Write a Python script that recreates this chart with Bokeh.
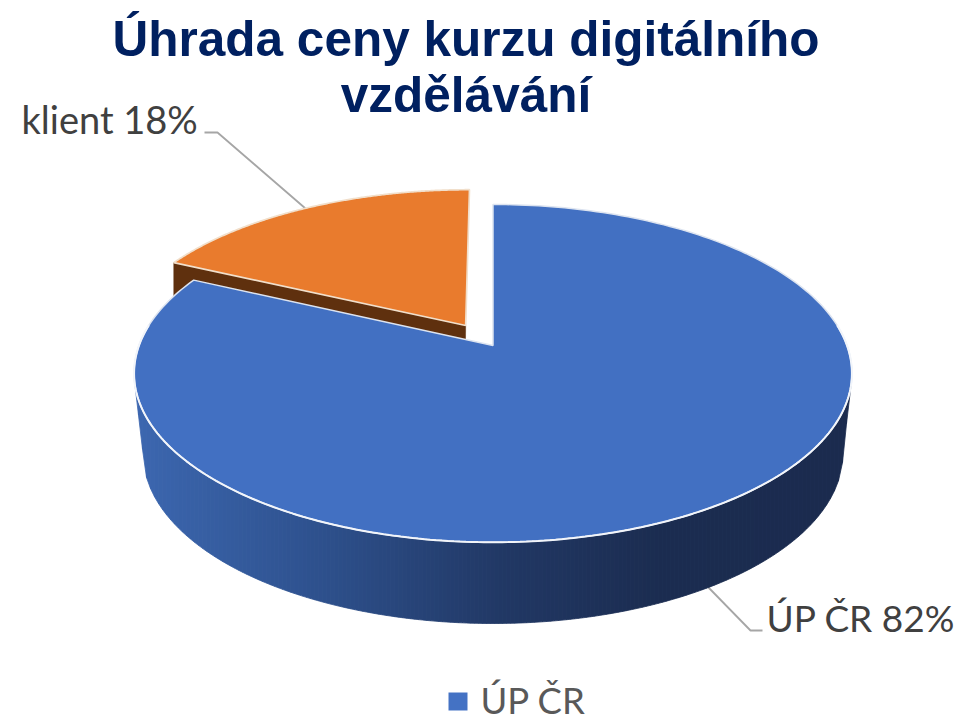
import numpy as np
from bokeh.plotting import figure
from bokeh.models import Range1d
from bokeh.core.properties import value
from bokeh.embed import file_html
from bokeh.resources import INLINE

# Data
categories = ["ÚP ČR", "klient"]
shares = [82, 18]
title_lines = ["Úhrada ceny kurzu digitálního", "vzdělávání"]
legend_items = ["ÚP ČR"]

# Colours
BLUE = "#4270C2"
ORANGE = "#E97B2D"
BROWN = "#5F300E"
TITLE = "#002060"
LABEL = "#404040"
LEGEND = "#595959"
LEADER = "#A6A6A6"
side_x = [134, 300, 500, 660, 851]
side_rgb = [(60, 103, 176), (47, 83, 145), (33, 56, 101), (27, 44, 80), (27, 43, 78)]

# Geometry of the tilted disc: a circle seen in perspective
CX, TIP_Y = 492.5, 345.0
A, B, K = 164.3, 354.0, 0.165
EXPLODE = 0.147
DEPTH = 80.0
BOT_CY, BOT_RX, BOT_RY = 453.0, 350.0, 170.0
TOP_CY = 373.0
RX = 358.0
BASE_SHIFT = 0.38  # em: distance the renderer sets an alphabetic text below its anchor


def project(u, v):
    w = 1 + K * v
    return CX + B * u / w, TIP_Y - A * v / w


def wedge(start, stop, du=0.0, dv=0.0, n=240):
    t = np.linspace(start, stop, n) * 2 * np.pi
    us = np.concatenate(([0.0], np.sin(t))) + du
    vs = np.concatenate(([0.0], np.cos(t))) + dv
    return project(us, vs)


def put_text(x, base, s, font, size, color, align="left", style="normal"):
    p.text([x], [base - BASE_SHIFT * size], text=[s], text_font=value(font), text_font_style=style,
           text_font_size=f"{size}px", text_color=color, text_align=align, text_baseline="alphabetic")


total = sum(shares)
f0 = shares[0] / total

p = figure(width=957, height=715, output_backend="svg", toolbar_location=None,
           x_range=Range1d(0, 957), y_range=Range1d(715, 0), min_border=0,
           background_fill_color="white", border_fill_color="white", outline_line_color=None)
p.axis.visible = False
p.grid.visible = False

# Leader lines
p.line([204, 217, 305], [132, 132, 208], line_color=LEADER, line_width=1.8)
p.line([708, 750, 762], [587, 630, 630], line_color=LEADER, line_width=1.8)

# Exploded slice
mid = (f0 + 1) / 2 * 2 * np.pi
du, dv = EXPLODE * np.sin(mid), EXPLODE * np.cos(mid)
ox, oy = wedge(f0, 1.0, du, dv)
face_x = [ox[0], ox[1], ox[1], ox[0] - 1]
face_y = [oy[0], oy[1], oy[1] + DEPTH, oy[0] + DEPTH]
p.patch(face_x, face_y, fill_color=BROWN, line_color=BROWN, line_width=0.5)
p.patch(ox, oy, fill_color=ORANGE, line_color="#F1DFCB", line_width=1.7)

# Side wall of the large slice, shaded strip by strip
edges = np.arange(134, 852, 4.0)
edges[-1] = 851


def lower(x):
    inside = np.clip(np.abs(x - CX) / BOT_RX, 0, 1)
    y = BOT_CY + BOT_RY * np.sqrt(1 - inside ** 2)
    over = np.abs(x - CX) - BOT_RX
    return np.where(over > 0, BOT_CY - (over / (RX - BOT_RX)) * 68, y)


sx, sy, sc = [], [], []
for a, b in zip(edges[:-1], edges[1:]):
    m = (a + b) / 2
    rgb = [np.interp(m, side_x, [c[i] for c in side_rgb]) for i in range(3)]
    sx.append([a, b, b, a])
    sy.append([TOP_CY, TOP_CY, float(lower(np.array(b))), float(lower(np.array(a)))])
    sc.append("#%02x%02x%02x" % tuple(int(round(v)) for v in rgb))
p.patches(sx, sy, fill_color=sc, line_color=sc, line_width=0.8)

# Large slice
bx, by = wedge(0.0, f0)
p.patch(bx, by, fill_color=BLUE, line_color="#DDE4F0", line_width=1.5)
hx, hy = wedge(0.23, 0.77)
p.line(hx[1:], hy[1:], line_color="#F2F5FA", line_width=2.0)

# Texts
for line, base in zip(title_lines, [56.5, 113]):
    put_text(465.5, base, line, "Liberation Sans", 49.5, TITLE, align="center", style="bold")
put_text(21, 133, f"{categories[1]} {shares[1]}%", "Lato", 38, LABEL)
put_text(766, 631, f"{categories[0]} {shares[0]}%", "Lato", 37, LABEL)

# Legend
p.rect([457.5], [701], width=19, height=18, fill_color="#4472C4", line_color=None)
put_text(480, 713, legend_items[0], "Lato", 36.5, LEGEND)

open("out.html", "w").write(file_html(p, INLINE))
